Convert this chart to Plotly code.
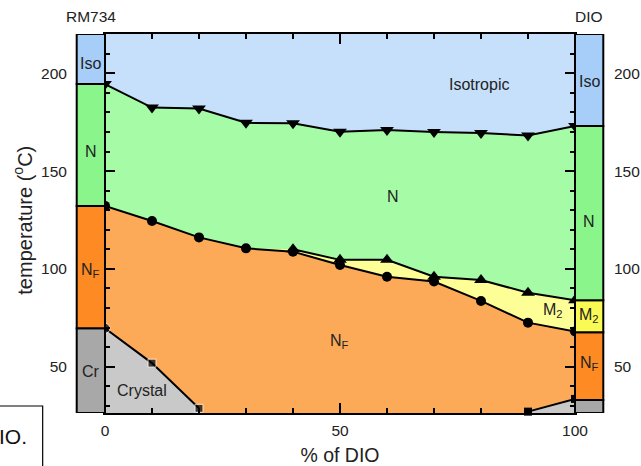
import plotly.graph_objects as go

# ---------------- data ----------------
dio_pct = [0, 10, 20, 30, 40, 50, 60, 70, 80, 90, 100]
t_iso_n = [194.5, 182.5, 182.0, 174.7, 174.4, 170.1, 171.0, 170.0, 169.5, 168.2, 173.1]
t_n_nf = [132.2, 124.5, 116.1, 110.5, 108.8, 102.0, 96.0, 93.5, 83.6, 72.5, 68.0]
dio_m2 = [40, 50, 60, 70, 80, 90, 100]
t_n_m2 = [110.0, 104.6, 104.6, 96.0, 94.3, 87.8, 84.0]
dio_cr_left = [0, 10, 20]
t_cr_left = [69.6, 51.8, 28.7]
dio_cr_right = [90, 100]
t_cr_right = [27.0, 33.5]

# pure compounds (phase bars)
rm734_phases = ["Cr", "N<sub>F</sub>", "N", "Iso"]
rm734_bounds = [26.3, 69.6, 132.2, 194.5, 220.1]
rm734_label_t = [47.4, 99.3, 160.0, 204.8]
dio_phases = ["Cr", "N<sub>F</sub>", "M<sub>2</sub>", "N", "Iso"]
dio_bounds = [26.3, 33.0, 67.6, 84.0, 173.1, 220.1]
dio_label_t = [None, 51.7, 76.4, 124.0, 195.7]

y_range = [26.3, 220.1]
x_ticks = [0, 50, 100]
y_ticks = [50, 100, 150, 200]

# ---------------- styles ----------------
FONT = "Liberation Sans, Arial, sans-serif"
C_ISO, C_ISO_BAR = "#c6e0fc", "#a6cef8"
C_N, C_N_BAR = "#a6fba6", "#8af58a"
C_NF, C_NF_BAR = "#fcaa58", "#fd8a22"
C_M2, C_M2_BAR = "#fefe96", "#fafa55"
C_CR, C_CR_BAR = "#c9c9c9", "#a8a8a8"

fig = go.Figure()

def fill_trace(x, y, color):
    fig.add_trace(go.Scatter(x=x, y=y, mode="lines", line=dict(width=0),
                             fill="tozeroy", fillcolor=color,
                             hoverinfo="skip", showlegend=False))

# regions
fill_trace(dio_pct, t_iso_n, C_N)
m2_upper_x = dio_pct[:4] + dio_m2
m2_upper_y = t_n_nf[:4] + t_n_m2
fill_trace(m2_upper_x, m2_upper_y, C_M2)
fill_trace(dio_pct, t_n_nf, C_NF)
fill_trace(dio_cr_left, t_cr_left, C_CR)
fill_trace(dio_cr_right, t_cr_right, C_CR)

def line_trace(x, y, symbol, size):
    fig.add_trace(go.Scatter(x=x, y=y, mode="lines+markers",
                             line=dict(color="black", width=2),
                             marker=dict(symbol=symbol, size=size, color="black"),
                             cliponaxis=False, showlegend=False))

line_trace(dio_pct, t_iso_n, "triangle-down", 12)
line_trace(dio_pct, t_n_nf, "circle", 10)
line_trace(dio_m2, t_n_m2, "triangle-up", 12)
line_trace(dio_cr_left, t_cr_left, ["circle", "square", "square"], [10, 8, 8])
line_trace(dio_cr_right, t_cr_right, "square", 8)

# phase bars of the pure compounds
bar_w = 0.0602
left_cols = [C_CR_BAR, C_NF_BAR, C_N_BAR, C_ISO_BAR]
right_cols = [C_CR_BAR, C_NF_BAR, C_M2_BAR, C_N_BAR, C_ISO_BAR]
shapes = []
annotations = []
for i, name in enumerate(rm734_phases):
    shapes.append(dict(type="rect", xref="paper", yref="y", x0=-bar_w, x1=0,
                       y0=rm734_bounds[i], y1=rm734_bounds[i + 1],
                       fillcolor=left_cols[i], line=dict(color="black", width=2)))
    annotations.append(dict(xref="paper", yref="y", x=-bar_w / 2, y=rm734_label_t[i],
                            xanchor="center", yanchor="middle",
                            text=name, showarrow=False,
                            font=dict(size=16, color="#222")))
for i, name in enumerate(dio_phases):
    shapes.append(dict(type="rect", xref="paper", yref="y", x0=1, x1=1 + bar_w,
                       y0=dio_bounds[i], y1=dio_bounds[i + 1],
                       fillcolor=right_cols[i], line=dict(color="black", width=2)))
    if dio_label_t[i] is not None:
        annotations.append(dict(xref="paper", yref="y", x=1 + bar_w / 2, y=dio_label_t[i],
                                xanchor="center", yanchor="middle",
                                text=name, showarrow=False,
                                font=dict(size=16, color="#222")))

# region labels
region_labels = [("Isotropic", 79.5, 194.5), ("N", 61.2, 136.8),
                 ("N<sub>F</sub>", 49.9, 63.0), ("M<sub>2</sub>", 95.3, 78.5),
                 ("Crystal", 7.9, 37.9)]
for txt, x, y in region_labels:
    annotations.append(dict(x=x, y=y, text=txt, showarrow=False,
                            xanchor="center", yanchor="middle",
                            font=dict(size=16, color="#222")))

# compound names
annotations.append(dict(xref="paper", yref="paper", x=-bar_w / 2, y=1.045,
                        xanchor="center", yanchor="middle",
                        text="RM734", showarrow=False, font=dict(size=15.5, color="#222")))
annotations.append(dict(xref="paper", yref="paper", x=1 + bar_w / 2, y=1.045,
                        xanchor="center", yanchor="middle",
                        text="DIO", showarrow=False, font=dict(size=15.5, color="#222")))

# y-axis title (placed left of the outer tick labels)
annotations.append(dict(xref="paper", yref="paper", x=-0.1745, y=0.51,
                        xanchor="center", yanchor="middle", textangle=-90,
                        text="temperature (<sup>o</sup>C)", showarrow=False,
                        font=dict(size=20, color="#222")))

# stray cropped box at bottom-left
shapes.append(dict(type="rect", xref="paper", yref="paper", x0=-0.4, x1=-0.1326,
                   y0=-0.3, y1=0.0185, line=dict(color="black", width=1.2)))
annotations.append(dict(xref="paper", yref="paper", x=-0.1617, y=-0.0607,
                        xanchor="right", yanchor="middle", text="IO.",
                        showarrow=False, font=dict(size=21, color="#111")))

fig.update_layout(
    width=641, height=466,
    margin=dict(l=105, r=66, t=34, b=53),
    paper_bgcolor="white", plot_bgcolor=C_ISO,
    font=dict(family=FONT, color="#222"),
    shapes=shapes, annotations=annotations, showlegend=False,
    xaxis=dict(range=[0, 100], tickmode="array", tickvals=x_ticks,
               ticks="inside", ticklen=10, tickwidth=2, tickcolor="black",
               minor=dict(tickmode="array", tickvals=[10, 20, 30, 40, 60, 70, 80, 90],
                          ticks="inside", ticklen=5, tickwidth=2, tickcolor="black"),
               showline=True, linecolor="black", linewidth=2, mirror="ticks",
               showgrid=False, zeroline=False, ticklabelstandoff=2,
               tickfont=dict(size=15.5), automargin=False,
               title=dict(text="% of DIO", font=dict(size=19.5), standoff=12)),
    yaxis=dict(range=y_range, tickmode="array", tickvals=y_ticks,
               ticks="inside", ticklen=10, tickwidth=2, tickcolor="black",
               minor=dict(dtick=10, tick0=0, ticks="inside", ticklen=5,
                          tickwidth=2, tickcolor="black"),
               showline=True, linecolor="black", linewidth=2, mirror="ticks",
               showgrid=False, zeroline=False, ticklabelstandoff=33,
               tickfont=dict(size=15.5), automargin=False),
    yaxis2=dict(range=y_range, overlaying="y", side="right", anchor="x",
                tickmode="array", tickvals=y_ticks, ticks="", showline=False,
                showgrid=False, zeroline=False, ticklabelstandoff=38,
                tickfont=dict(size=15.5), automargin=False),
)
# attach an invisible trace to yaxis2 so its labels render
fig.add_trace(go.Scatter(x=[None], y=[None], yaxis="y2", showlegend=False,
                         hoverinfo="skip"))

fig.write_html("out.html", config={"displayModeBar": False},
               post_script="document.body.style.margin='0px';")
